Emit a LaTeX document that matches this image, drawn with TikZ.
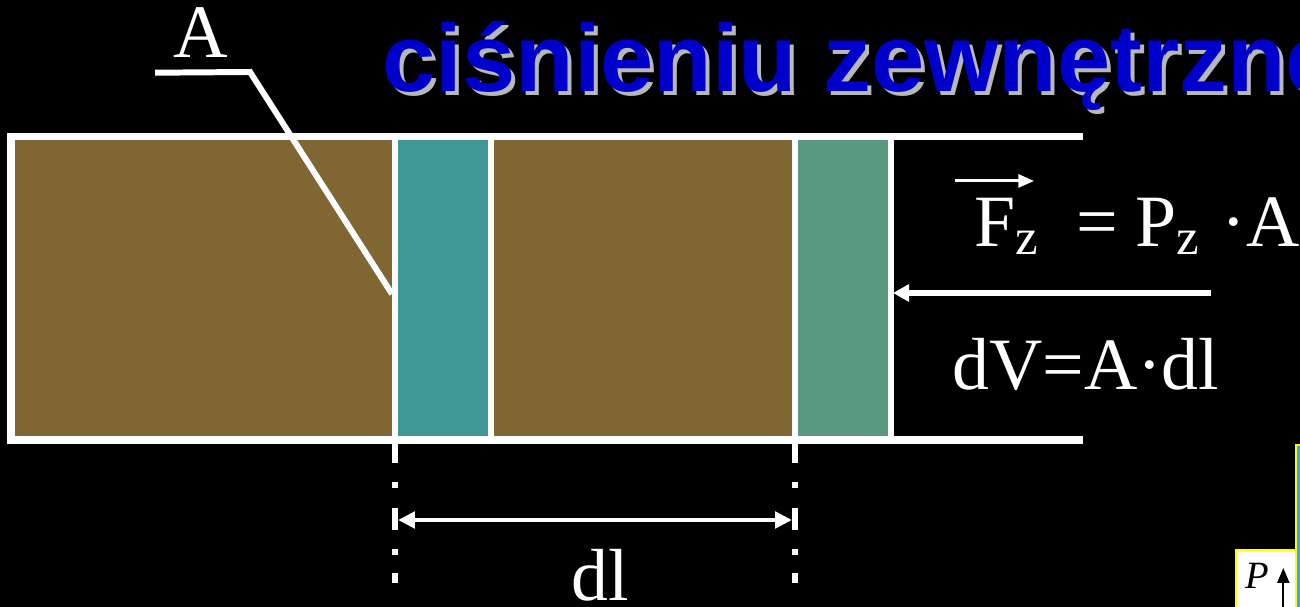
\documentclass[tikz,border=0pt]{standalone}
\usepackage{fontspec}
\setmainfont{Liberation Serif}
\newfontfamily\headfont{Liberation Sans}
\definecolor{clay}{RGB}{128,102,51}
\definecolor{lagoon}{RGB}{63,152,150}
\definecolor{sage}{RGB}{91,152,128}
\definecolor{headblue}{RGB}{0,0,204}
\definecolor{sky}{RGB}{64,160,255}
\definecolor{marker}{RGB}{255,255,0}
\newcommand\subz{\raisebox{-2pt}{\fontsize{14.5}{14.5}\selectfont z}}
\usepackage{tikz}
\usetikzlibrary{arrows.meta,positioning}

\begin{document}
\begin{tikzpicture}[font=\fontsize{21}{21}\selectfont,text=white,
    wall/.style={white,line width=2pt},
    rib/.style={white,line width=1.7pt},
    lead/.style={white,line width=1.7pt},
    dimline/.style={white,line width=1.4pt,{Triangle[length=4.8pt,width=4.6pt]}-{Triangle[length=4.8pt,width=4.6pt]}},
    push/.style={white,line width=1.7pt,-{Triangle[length=4.6pt,width=4.8pt]}},
    vec/.style={white,line width=0.85pt,-{Triangle[length=4.5pt,width=3.7pt]}},
    headline/.style={font=\headfont\bfseries\fontsize{27.2}{27.2}\selectfont,anchor=base west,inner sep=0}]
        \fill[black] (0,0) rectangle (13,-6.07);
        \useasboundingbox (0,0) rectangle (13,-6.07);
        \clip (0,0) rectangle (13,-6.07);
        \node[headline,text=white!72!black] (headshade) at (3.86,-0.96) {ciśnieniu zewnętrznemu};
        \node[headline,text=headblue] (head) at (3.82,-0.92) {ciśnieniu zewnętrznemu};
        \fill[clay] (0.15,-1.40) rectangle (8.87,-4.36);
        \fill[lagoon] (3.95,-1.40) rectangle (4.91,-4.36);
        \fill[sage] (7.95,-1.40) rectangle (8.905,-4.36);
        \draw[wall] (10.83,-1.365) -| (0.11,-4.40) -- (10.83,-4.40);
        \foreach \x in {3.95,4.91,7.95,8.905} \draw[rib] (\x,-1.33) -- (\x,-4.44);
        \foreach \x in {3.95,7.95} \draw[rib,dash pattern=on 0.21cm off 0.19cm on 0.06cm off 0.20cm on 0.22cm off 0.19cm on 0.06cm off 0.18cm on 0.10cm off 1cm] (\x,-4.42) -- (\x,-6.1);
        \coordinate (dlA) at (3.98,-5.20);
        \coordinate (dlB) at (7.92,-5.20);
        \draw[dimline] (dlA) -- (dlB);
        \node[anchor=base,inner sep=0] (dlabel) at (6.00,-6.00) {dl};
        \node[anchor=base,inner sep=0,font=\fontsize{21.5}{21.5}\selectfont] (areaA) at (2.01,-0.58) {A};
        \coordinate (kink) at (2.50,-0.72);
        \coordinate (face) at (3.92,-2.94);
        \draw[lead] (areaA.south west) ++(-0.18,-0.14) -- (kink) -- (face);
        \coordinate (pushend) at (12.11,-2.93);
        \coordinate (piston) at (8.93,-2.93);
        \draw[push] (pushend) -- (piston);
        \node[anchor=base west,inner sep=0] (Fz) at (9.74,-2.47) {F\subz};
        \node[right=0.37cm of Fz.base east,anchor=base west,inner sep=0] (rhs) {=\hspace{4.8pt}P\subz\hspace{6.5pt}·A};
        \draw[vec] ([xshift=-0.19cm,yshift=0.17cm]Fz.north west) -- ([xshift=-0.05cm,yshift=0.17cm]Fz.north east);
        \node[anchor=base west,inner sep=0] (dV) at (9.515,-3.90) {dV=A·dl};
        \draw[marker,line width=0.6pt,fill=sky] (12.96,-4.45) rectangle (13.3,-6.3);
        \draw[marker,line width=0.6pt,fill=white] (12.36,-5.50) rectangle (12.96,-6.3);
        \node[anchor=base,inner sep=0,text=black,font=\fontsize{11}{11}\selectfont\itshape] (axisP) at (12.575,-5.88) {P};
        \coordinate (axis0) at (12.833,-6.10);
        \coordinate (axis1) at (12.833,-5.68);
        \draw[black,line width=0.5pt,-{Triangle[length=4.2pt,width=3.4pt]}] (axis0) -- (axis1);
      \end{tikzpicture}
\end{document}
